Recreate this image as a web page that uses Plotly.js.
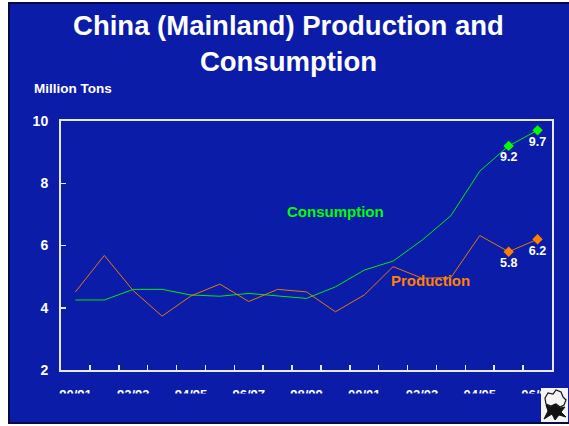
<!DOCTYPE html>
<html>
<head>
<meta charset="utf-8">
<script src="https://cdn.plot.ly/plotly-3.0.1.min.js"></script>
<style>html,body{margin:0;padding:0;background:#fff;} #chart{width:569px;height:426px;}</style>
</head>
<body>
<div id="chart"></div>
<script>
// ---- data ----
const categories = ['90/91','91/92','92/93','93/94','94/95','95/96','96/97','97/98','98/99','99/00','00/01','01/02','02/03','03/04','04/05','05/06','06/07'];
const consumption = [4.25,4.25,4.59,4.59,4.41,4.37,4.46,4.37,4.30,4.67,5.21,5.50,6.17,6.96,8.39,9.2,9.7];
const production  = [4.51,5.68,4.55,3.73,4.38,4.76,4.20,4.59,4.51,3.87,4.41,5.32,4.95,4.97,6.32,5.8,6.2];
const tickLabels = categories.map((c, i) => (i % 2 === 0 ? c : ''));

// ---- styling ----
const BLUE = '#0a1ca8';
const GREEN = '#00ff00';
const ORANGE = '#ff8000';
const FONT = 'Liberation Sans, Arial, sans-serif';

// plot area in pixels
const L = 61, R = 552, T = 121, B = 370;
const px = x => (x - L) / (R - L);
const py = y => (B - y) / (B - T);

const nLast = 2;
const lastCats = categories.slice(-nLast);

const traces = [
  { x: categories, y: consumption, type: 'scatter', mode: 'lines',
    line: { color: GREEN, width: 0.9 }, hoverinfo: 'skip', showlegend: false },
  { x: categories, y: production, type: 'scatter', mode: 'lines',
    line: { color: ORANGE, width: 0.9 }, hoverinfo: 'skip', showlegend: false },
  { x: lastCats, y: consumption.slice(-nLast), type: 'scatter', mode: 'markers+text',
    marker: { symbol: 'diamond', size: 8, color: GREEN },
    texttemplate: '%{y:.1f}', textposition: 'bottom center',
    textfont: { family: FONT, size: 12.5, color: '#ffffff', weight: 700 }, showlegend: false },
  { x: lastCats, y: production.slice(-nLast), type: 'scatter', mode: 'markers+text',
    marker: { symbol: 'diamond', size: 8, color: ORANGE },
    texttemplate: '%{y:.1f}', textposition: 'bottom center',
    textfont: { family: FONT, size: 12.5, color: '#ffffff', weight: 700 }, showlegend: false }
];

// logo path helper
function P(pts) {
  return 'M' + pts.map(p => px(p[0]) + ',' + py(p[1])).join(' L') + ' Z';
}

const shapes = [
  // slide background
  { type: 'rect', xref: 'paper', yref: 'paper', layer: 'below',
    x0: px(9), x1: px(580), y0: py(423), y1: py(3),
    fillcolor: BLUE, line: { color: '#0a0a40', width: 2 } },
  // clip of x tick labels (bottom half hidden like the reference)
  { type: 'rect', xref: 'paper', yref: 'paper', layer: 'above',
    x0: px(11), x1: px(580), y0: py(421), y1: py(393.5),
    fillcolor: BLUE, line: { width: 0 } },
  // logo background
  { type: 'rect', xref: 'paper', yref: 'paper', layer: 'above',
    x0: px(541), x1: px(568), y0: py(422), y1: py(388),
    fillcolor: '#f4f4f4', line: { width: 0 } },
  // logo: cotton boll outline
  { type: 'path', xref: 'paper', yref: 'paper', layer: 'above',
    path: P([[545,398],[548,393],[553,394],[556,390],[561,392],[563,397],[566,400],[564,405],[560,407],[556,404],[551,406],[546,404]]),
    fillcolor: 'rgba(0,0,0,0)', line: { color: '#111', width: 1.2 } },
  // logo: leaves / stem
  { type: 'path', xref: 'paper', yref: 'paper', layer: 'above',
    path: P([[544,419],[548,411],[546,405],[551,407],[555,404],[560,408],[565,407],[561,412],[566,417],[559,415],[555,420],[552,414]]),
    fillcolor: '#111', line: { color: '#111', width: 1 } }
];

const layout = {
  width: 569, height: 426, autosize: false,
  paper_bgcolor: '#ffffff', plot_bgcolor: BLUE,
  margin: { l: L, r: 569 - R, t: T, b: 426 - B, pad: 0 },
  title: {
    text: 'China (Mainland) Production and<br>Consumption',
    font: { family: FONT, size: 27.5, color: '#ffffff', weight: 700 },
    xref: 'container', yref: 'container', x: 0.507, xanchor: 'center',
    y: 0.918, yanchor: 'top'
  },
  xaxis: {
    type: 'category', range: [-0.5, categories.length - 0.5],
    tickmode: 'array', tickvals: categories, ticktext: tickLabels, tickangle: 0,
    tickson: 'boundaries', ticks: 'inside', ticklen: 5, tickwidth: 1.5, tickcolor: '#e8e8f0',
    showline: true, linecolor: '#e8e8f0', linewidth: 2, mirror: true,
    showgrid: false, zeroline: false, fixedrange: true,
    ticklabelstandoff: 11,
    tickfont: { family: FONT, size: 13, color: '#ffffff', weight: 700 }
  },
  yaxis: {
    range: [2, 10], dtick: 2, tick0: 2,
    ticks: 'inside', ticklen: 5, tickwidth: 1.5, tickcolor: '#e8e8f0',
    showline: true, linecolor: '#e8e8f0', linewidth: 2, mirror: true,
    showgrid: false, zeroline: false, fixedrange: true,
    ticklabelstandoff: 8,
    tickfont: { family: FONT, size: 14, color: '#ffffff', weight: 700 }
  },
  annotations: [
    { text: 'Million Tons', xref: 'paper', yref: 'paper', x: px(32), y: py(89),
      xanchor: 'left', yanchor: 'middle', showarrow: false,
      font: { family: FONT, size: 13.5, color: '#ffffff', weight: 700 } },
    { text: 'Consumption', xref: 'x', yref: 'y', x: 9.02, y: 7.08,
      xanchor: 'center', yanchor: 'middle', showarrow: false,
      font: { family: FONT, size: 15, color: GREEN, weight: 700 } },
    { text: 'Production', xref: 'x', yref: 'y', x: 12.28, y: 4.86,
      xanchor: 'center', yanchor: 'middle', showarrow: false,
      font: { family: FONT, size: 15, color: ORANGE, weight: 700 } }
  ],
  shapes: shapes,
  showlegend: false
};

Plotly.newPlot('chart', traces, layout, { staticPlot: true, displayModeBar: false });
</script>
</body>
</html>
